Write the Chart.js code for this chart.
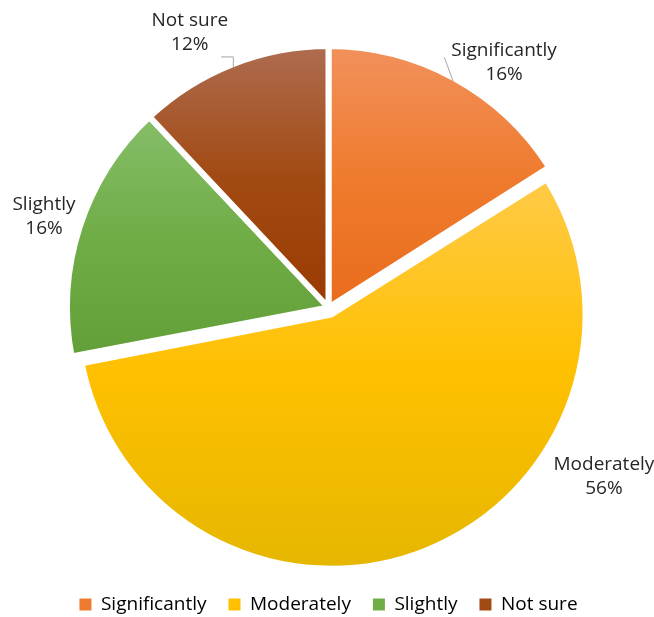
<!DOCTYPE html>
<html><head><meta charset="utf-8">
<script src="https://cdn.jsdelivr.net/npm/chart.js@4.4.1/dist/chart.umd.min.js"></script>
<style>html,body{margin:0;padding:0;background:#fff;}#wrap{width:654px;height:617px;}</style>
</head><body><div id="wrap"><canvas id="c" width="654" height="617"></canvas></div>
<script>
const categories = ['Significantly', 'Moderately', 'Slightly', 'Not sure'];
const percentages = [16, 56, 16, 12];

const baseColors = ['#EE7C30', '#FFC000', '#70AD47', '#A14A12'];
const gradientStops = [
  ['#F2915C', '#EF7B2E', '#E96C1B'],
  ['#FFCA47', '#FFC000', '#E6B700'],
  ['#86BE69', '#70AD47', '#629F38'],
  ['#AE6C50', '#A24A13', '#9A3A02']
];

const TEXT = '#262626';
const FAMILY = "'Open Sans', sans-serif";
const FONT_SIZE = 19;
const LINE = 24;
const BORDER = 6;
const RADIUS = 261.5;
const EXPLODE = [0, 30, 0, 0];
const SHRINK = [0, 14.7, 0, 0];
const labelPlacement = [
  {angle: 35.6, dist: 1.167, leader: 'straight'},
  {angle: 121.6, dist: 1.251, leader: 'none'},
  {angle: 287.8, dist: 1.156, leader: 'none'},
  {angle: 333.2, dist: 1.19, leader: 'elbow'}
];

const slicePlugin = {
  id: 'slices',
  afterDatasetsUpdate(chart) {
    const meta = chart.getDatasetMeta(0);
    meta.data.forEach((arc, i) => {
      if (SHRINK[i]) arc.outerRadius = arc.outerRadius - SHRINK[i];
    });
  },
  beforeDatasetsDraw(chart) {
    const ctx = chart.ctx;
    const meta = chart.getDatasetMeta(0);
    meta.data.forEach((arc, i) => {
      const {x, y, startAngle, endAngle, outerRadius} = arc;
      const ys = [y, y + outerRadius * Math.sin(startAngle), y + outerRadius * Math.sin(endAngle)];
      for (const a of [-Math.PI / 2, Math.PI / 2, 3 * Math.PI / 2, 5 * Math.PI / 2]) {
        if (a >= startAngle && a <= endAngle) ys.push(y + outerRadius * Math.sin(a));
      }
      const top = Math.min(...ys), bot = Math.max(...ys);
      const g = ctx.createLinearGradient(0, top, 0, bot);
      const stops = gradientStops[i];
      stops.forEach((c, k) => g.addColorStop(k / (stops.length - 1), c));
      try { arc.options.backgroundColor = g; } catch (e) {}
      if (arc.options.backgroundColor !== g) {
        arc.options = Object.assign({}, arc.options, {backgroundColor: g});
      }
    });
  },
  afterDatasetsDraw(chart) {
    const ctx = chart.ctx;
    const meta = chart.getDatasetMeta(0);
    const base = meta.data[0];
    const cx = base.x, cy = base.y;
    const R = base.outerRadius - BORDER / 2;
    ctx.save();
    ctx.font = FONT_SIZE + 'px ' + FAMILY;
    ctx.textAlign = 'center';
    ctx.textBaseline = 'middle';
    meta.data.forEach((arc, i) => {
      const p = labelPlacement[i];
      const th = p.angle * Math.PI / 180;
      const lx = cx + Math.sin(th) * p.dist * R;
      const ly = cy - Math.cos(th) * p.dist * R;
      const lines = [categories[i], percentages[i] + '%'];
      ctx.fillStyle = TEXT;
      ctx.fillText(lines[0], lx, ly - LINE / 2);
      ctx.fillText(lines[1], lx, ly + LINE / 2);
      const w = Math.max(...lines.map(t => ctx.measureText(t).width));
      const mid = (arc.startAngle + arc.endAngle) / 2;
      const ax = cx + Math.cos(mid) * R, ay = cy + Math.sin(mid) * R;
      ctx.strokeStyle = '#A6A6A6';
      ctx.lineWidth = 1;
      if (p.leader === 'straight') {
        ctx.beginPath();
        ctx.moveTo(ax, ay);
        ctx.lineTo(lx - w / 2 - 7, ly - 5);
        ctx.stroke();
      } else if (p.leader === 'elbow') {
        const ey = ly + 24;
        ctx.beginPath();
        ctx.moveTo(ax, ay);
        ctx.lineTo(ax, ey);
        ctx.lineTo(lx + w / 2 - 7, ey);
        ctx.stroke();
      }
    });
    ctx.restore();
  }
};

new Chart(document.getElementById('c'), {
  type: 'pie',
  data: {
    labels: categories,
    datasets: [{
      data: percentages,
      backgroundColor: baseColors,
      borderColor: '#FFFFFF',
      borderWidth: BORDER,
      borderJoinStyle: 'round',
      offset: EXPLODE,
      hoverOffset: 0,
      clip: false
    }]
  },
  options: {
    responsive: false,
    animation: false,
    events: [],
    radius: RADIUS,
    layout: {padding: {top: 42, left: 10, right: 7, bottom: 0}},
    plugins: {
      tooltip: {enabled: false},
      legend: {
        position: 'bottom',
        maxHeight: 44,
        labels: {
          font: {family: FAMILY, size: FONT_SIZE},
          color: TEXT,
          boxWidth: 12,
          boxHeight: 12,
          padding: 22,
          generateLabels() {
            return categories.map((c, i) => ({
              text: c, fillStyle: baseColors[i], strokeStyle: baseColors[i],
              lineWidth: 0, hidden: false, index: i
            }));
          }
        }
      }
    }
  },
  plugins: [slicePlugin]
});
</script>
</body></html>
